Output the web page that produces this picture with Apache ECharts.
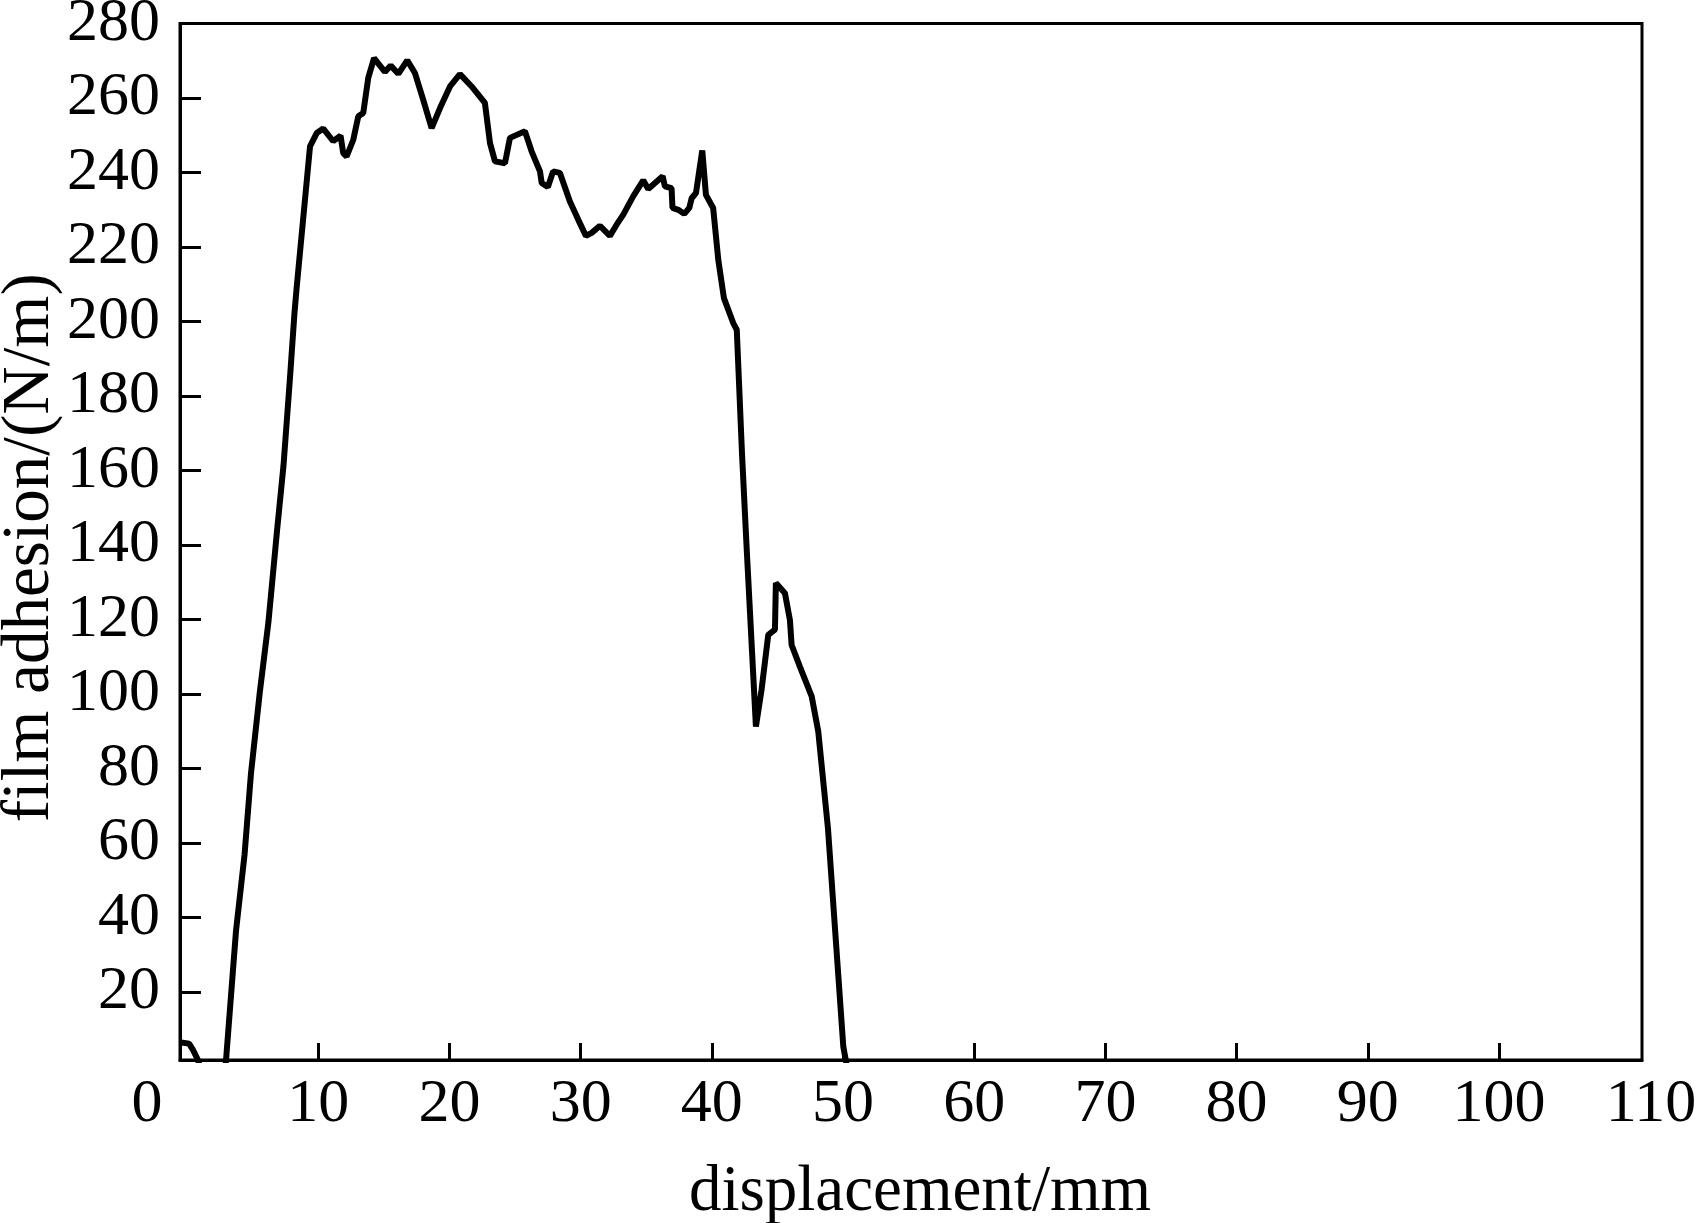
<!DOCTYPE html>
<html>
<head>
<meta charset="utf-8">
<script src="https://cdn.jsdelivr.net/npm/echarts@6/dist/echarts.min.js"></script>
<style>
html,body{margin:0;padding:0;background:#fff;}
#chart{width:1697px;height:1223px;}
</style>
</head>
<body>
<div id="chart"></div>
<script>
// ---- data ----
const displacement = [-0.45, 0.15, 0.45, 0.8, 1.0, 2.93, 3.73, 4.38, 4.87, 5.54, 6.2, 6.86, 7.35, 7.84, 8.18, 8.36,
  9.37, 9.88, 10.38, 11.14, 11.7, 11.9, 12.16, 12.67, 13.05, 13.43, 13.81, 14.25, 15.08, 15.52, 16.1, 16.78,
  17.37, 18.0, 18.64, 19.28, 20.04, 20.8, 21.69, 22.7, 23.09, 23.47, 24.23, 24.61, 25.75, 26.26, 26.9, 27.03,
  27.5, 27.9, 28.42, 29.18, 29.82, 30.4, 30.84, 31.47, 32.23, 32.74, 33.25, 34.0, 34.77, 35.15, 36.25, 36.42,
  36.93, 37.0, 37.44, 37.9, 38.28, 38.46, 38.79, 39.27, 39.55, 40.1, 40.49, 40.92, 41.63, 41.9, 42.3, 42.66,
  43.36, 43.79, 44.3, 44.81, 44.88, 45.57, 45.95, 46.08, 46.71, 47.61, 48.11, 48.85, 50.02, 50.3];
const adhesion = [6.5, 6.2, 4.5, 2.0, 0, 0, 36.5, 56.9, 78.7, 100.4, 119.3, 144, 161.4, 184.7, 202, 209.4,
  247.0, 250.6, 251.8, 248.4, 249.9, 245.2, 244.3, 248.8, 255.1, 256, 265.4, 270.7, 267, 268.7, 266.5, 270.1,
  266.7, 259.5, 251.9, 257.3, 263.1, 266.4, 263.1, 258.7, 247.9, 243, 242.5, 249.3, 251.1, 245.7, 240.3, 237.2,
  236.1, 240.3, 239.9, 232.2, 227.3, 223, 223.8, 225.7, 223, 226, 228.7, 233.6, 237.9, 235.6, 239, 236.3,
  235.8, 230.5, 230, 228.9, 230.5, 233.1, 234.5, 245.9, 234, 230.5, 216.6, 206.3, 199.6, 197.8, 164.4, 138.7,
  91.3, 101.2, 115.9, 117.3, 129.8, 127.1, 119.9, 113.2, 107.4, 99.4, 90, 64, 5.4, 0];

const xTickValues = [10, 20, 30, 40, 50, 60, 70, 80, 90, 100];
const yTickValues = [20, 40, 60, 80, 100, 120, 140, 160, 180, 200, 220, 240, 260];
const yLabelValues = [20, 40, 60, 80, 100, 120, 140, 160, 180, 200, 220, 240, 260, 280];
const xFirstLabel = '0';
const xLastLabel = '110';

const XMIN = -0.54, XMAX = 110.9;
const YMIN = 1.8, YMAX = 280;

const FONT = "'Liberation Serif', 'Times New Roman', serif";
const points = displacement.map((x, i) => [x, adhesion[i]]);

const chart = echarts.init(document.getElementById('chart'), null, {renderer: 'canvas'});
chart.setOption({
  backgroundColor: '#fff',
  animation: false,
  grid: {left: 180, top: 23.5, right: 55, bottom: 163, show: true, borderColor: '#000', borderWidth: 3,
         backgroundColor: 'transparent', containLabel: false, outerBoundsMode: 'none'},
  xAxis: {
    type: 'value', min: XMIN, max: XMAX,
    name: 'displacement/mm', nameLocation: 'middle', nameGap: 100,
    nameTextStyle: {fontFamily: FONT, fontSize: 65, color: '#000', padding: [0, 0, 0, 18]},
    axisLine: {show: true, onZero: false, lineStyle: {color: '#000', width: 3}},
    axisTick: {show: true, inside: true, length: 17, lineStyle: {color: '#000', width: 3}, customValues: xTickValues},
    axisLabel: {
      show: true, margin: 14, fontFamily: FONT, fontSize: 62, color: '#000',
      customValues: [XMIN].concat(xTickValues, [XMAX]),
      formatter: function (v) {
        if (Math.abs(v - XMIN) < 1e-6) return '{l|' + xFirstLabel + '}';
        if (Math.abs(v - XMAX) < 1e-6) return '{r|' + xLastLabel + '}';
        return String(Math.round(v));
      },
      rich: {
        l: {fontFamily: FONT, fontSize: 62, color: '#000', padding: [0, 66, 0, 0]},
        r: {fontFamily: FONT, fontSize: 62, color: '#000', padding: [0, 0, 0, 18]}
      }
    },
    splitLine: {show: false}
  },
  yAxis: {
    type: 'value', min: YMIN, max: YMAX,
    name: 'film adhesion/(N/m)', nameLocation: 'middle', nameGap: 116, nameRotate: 90, nameMoveOverlap: false,
    nameTextStyle: {fontFamily: FONT, fontSize: 67, color: '#000', padding: [0, 12, 0, 0]},
    axisLine: {show: true, onZero: false, lineStyle: {color: '#000', width: 3}},
    axisTick: {show: true, inside: true, length: 21, lineStyle: {color: '#000', width: 3}, customValues: yTickValues},
    axisLabel: {show: true, margin: 20, fontFamily: FONT, fontSize: 62, color: '#000', customValues: yLabelValues},
    splitLine: {show: false}
  },
  series: [{
    type: 'line', data: points, showSymbol: false, clip: true,
    lineStyle: {color: '#000', width: 6},
    itemStyle: {color: '#000'}
  }]
});
</script>
</body>
</html>
